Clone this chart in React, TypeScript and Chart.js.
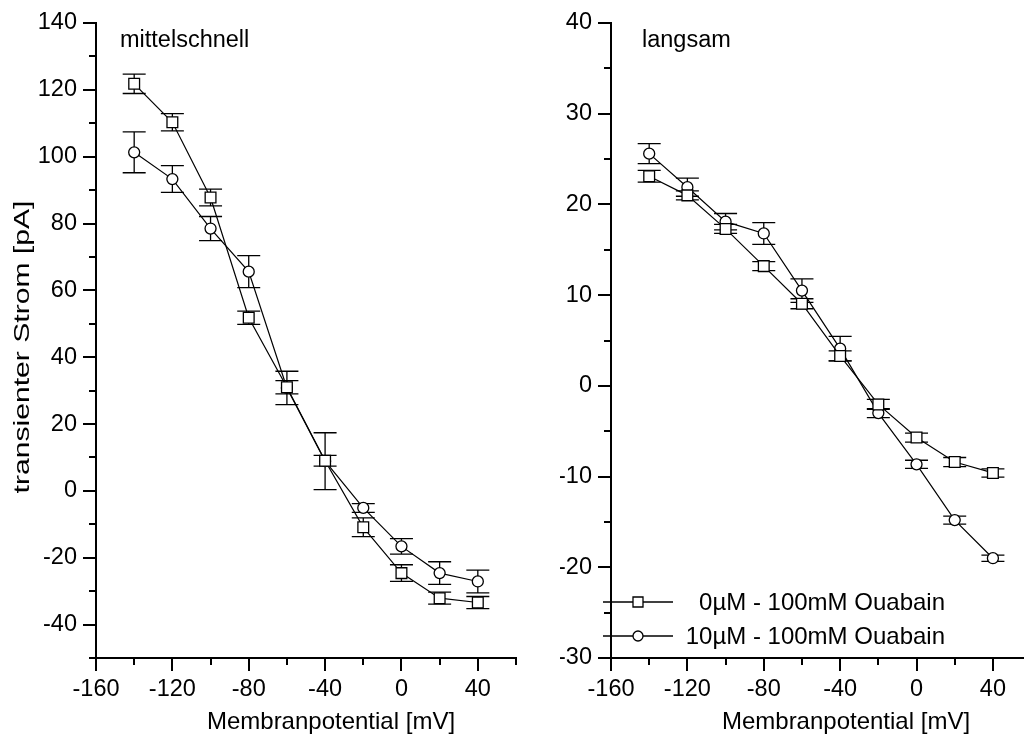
import React, { useEffect, useRef } from 'react';
import { Chart, registerables } from 'chart.js';

Chart.register(...registerables);

// ---------- data ----------
const voltage = [-140, -120, -100, -80, -60, -40, -20, 0, 20, 40];

const midSquare = [121.8, 110.3, 87.8, 51.8, 31.0, 9.0, -10.9, -24.6, -32.1, -33.4];
const midSquareErr = [2.9, 2.6, 2.5, 2.0, 2.0, 1.6, 2.8, 2.5, 1.8, 1.8];
const midCircle = [101.3, 93.3, 78.5, 65.6, 30.8, 8.9, -5.1, -16.6, -24.6, -27.1];
const midCircleErr = [6.1, 4.0, 3.6, 4.8, 5.0, 8.5, 1.3, 2.3, 3.4, 3.4];

const slowSquare = [23.1, 21.0, 17.3, 13.2, 9.05, 3.3, -2.05, -5.7, -8.4, -9.6];
const slowSquareErr = [0.65, 0.5, 0.5, 0.5, 0.55, 0.55, 0.55, 0.5, 0.5, 0.45];
const slowCircle = [25.6, 21.9, 18.1, 16.8, 10.5, 4.1, -3.0, -8.65, -14.8, -19.0];
const slowCircleErr = [1.1, 1.0, 0.9, 1.2, 1.3, 1.35, 0.5, 0.45, 0.45, 0.35];

const seriesNames = ['0\u00B5M - 100mM Ouabain', '10\u00B5M - 100mM Ouabain'];
const panelNames = ['mittelschnell', 'langsam'];
const xTitle = 'Membranpotential [mV]';
const yTitle = 'transienter Strom [pA]';

const FONT = 'Arial, "Liberation Sans", sans-serif';

type Panel = {
  width: number;
  yAxisWidth: number;
  padRight: number;
  yMin: number;
  yMax: number;
  yStep: number;
  yMajor: number;
  label: string;
  labelX: number;
  titleX: number;
  showYTitle: boolean;
  showLegend: boolean;
  sq: number[];
  sqErr: number[];
  ci: number[];
  ciErr: number[];
};

function drawMarker(ctx: CanvasRenderingContext2D, kind: string, x: number, y: number) {
  ctx.save();
  ctx.fillStyle = '#fff';
  ctx.strokeStyle = '#000';
  ctx.lineWidth = 1.3;
  ctx.beginPath();
  if (kind === 'rect') {
    ctx.rect(x - 5, y - 5, 10, 10);
  } else {
    ctx.arc(x, y, 5, 0, Math.PI * 2);
  }
  ctx.fill();
  ctx.stroke();
  ctx.restore();
}

function makeDecor(p: Panel) {
  return {
    id: 'decor',
    beforeDatasetDraw(chart: any, args: any) {
      const ctx = chart.ctx;
      const xs = chart.scales.x;
      const ys = chart.scales.y;
      const ds = chart.data.datasets[args.index];
      const errs: number[] = ds.errs;
      ctx.save();
      ctx.strokeStyle = '#000';
      ctx.lineWidth = 1.3;
      ds.data.forEach((pt: any, j: number) => {
        const px = xs.getPixelForValue(pt.x);
        const t = ys.getPixelForValue(pt.y + errs[j]);
        const b = ys.getPixelForValue(pt.y - errs[j]);
        const cap = 11.5;
        ctx.beginPath();
        ctx.moveTo(px, t);
        ctx.lineTo(px, b);
        ctx.moveTo(px - cap, t);
        ctx.lineTo(px + cap, t);
        ctx.moveTo(px - cap, b);
        ctx.lineTo(px + cap, b);
        ctx.stroke();
      });
      ctx.restore();
    },
    afterDraw(chart: any) {
      const ctx = chart.ctx as CanvasRenderingContext2D;
      const xs = chart.scales.x;
      const ys = chart.scales.y;
      const area = chart.chartArea;
      ctx.save();
      ctx.strokeStyle = '#000';
      ctx.lineWidth = 2;
      // x tick marks
      xs.ticks.forEach((t: any) => {
        const px = Math.round(xs.getPixelForValue(t.value));
        const len = t.value % 40 === 0 ? 13 : 7;
        ctx.beginPath();
        ctx.moveTo(px, area.bottom);
        ctx.lineTo(px, area.bottom + len);
        ctx.stroke();
      });
      // y tick marks
      ys.ticks.forEach((t: any) => {
        const py = Math.round(ys.getPixelForValue(t.value));
        const len = t.value % p.yMajor === 0 ? 13 : 7;
        ctx.beginPath();
        ctx.moveTo(area.left, py);
        ctx.lineTo(area.left - len, py);
        ctx.stroke();
      });
      ctx.fillStyle = '#000';
      // x title
      ctx.font = `24px ${FONT}`;
      ctx.textAlign = 'center';
      ctx.textBaseline = 'alphabetic';
      ctx.fillText(xTitle, p.titleX, 729);
      // panel label
      ctx.textAlign = 'left';
      ctx.font = `23.5px ${FONT}`;
      ctx.fillText(p.label, p.labelX, 47);
      // y title
      if (p.showYTitle) {
        ctx.save();
        ctx.translate(23, 347);
        ctx.rotate(-Math.PI / 2);
        ctx.scale(1.4, 1);
        ctx.font = `21.5px ${FONT}`;
        ctx.textAlign = 'center';
        ctx.textBaseline = 'middle';
        ctx.fillText(yTitle, 0, 0);
        ctx.restore();
      }
      // legend
      if (p.showLegend) {
        const rows = [
          { y: 602, kind: 'rect', text: seriesNames[0] },
          { y: 636, kind: 'circle', text: seriesNames[1] },
        ];
        rows.forEach((r) => {
          ctx.lineWidth = 1.3;
          ctx.beginPath();
          ctx.moveTo(43, r.y);
          ctx.lineTo(113, r.y);
          ctx.stroke();
          drawMarker(ctx, r.kind, 78, r.y);
          ctx.fillStyle = '#000';
          ctx.font = `24px ${FONT}`;
          ctx.textAlign = 'right';
          ctx.textBaseline = 'middle';
          ctx.fillText(r.text, 385, r.y + 1);
        });
      }
      ctx.restore();
    },
  };
}

function buildConfig(p: Panel): any {
  const mk = (vals: number[], errs: number[], style: string, radius: number, label: string) => ({
    label,
    data: voltage.map((x, i) => ({ x, y: vals[i] })),
    errs,
    showLine: true,
    borderColor: '#000',
    borderWidth: 1.2,
    backgroundColor: '#fff',
    pointStyle: style,
    pointRadius: radius,
    pointBorderColor: '#000',
    pointBackgroundColor: '#fff',
    pointBorderWidth: 1.3,
    tension: 0,
    clip: false,
  });
  return {
    type: 'line',
    data: {
      datasets: [
        mk(p.sq, p.sqErr, 'rect', 7.6, seriesNames[0]),
        mk(p.ci, p.ciErr, 'circle', 5.5, seriesNames[1]),
      ],
    },
    options: {
      responsive: false,
      animation: false,
      layout: { padding: { left: 0, top: 23, right: p.padRight, bottom: 0 } },
      plugins: { legend: { display: false }, tooltip: { enabled: false } },
      events: [],
      scales: {
        x: {
          type: 'linear',
          min: -160,
          max: 60,
          grid: { display: false, drawTicks: true, tickLength: 13 },
          border: { display: true, color: '#000', width: 2 },
          ticks: {
            stepSize: 20,
            autoSkip: false,
            maxRotation: 0,
            minRotation: 0,
            padding: 4,
            color: '#000',
            font: { family: FONT, size: 23.5 },
            callback: (v: number) => (v % 40 === 0 ? String(v) : ''),
          },
          afterFit: (s: any) => {
            s.height = 735 - 658;
          },
        },
        y: {
          type: 'linear',
          min: p.yMin,
          max: p.yMax,
          grid: { display: false, drawTicks: true, tickLength: 13 },
          border: { display: true, color: '#000', width: 2 },
          ticks: {
            stepSize: p.yStep,
            autoSkip: false,
            padding: 6,
            color: '#000',
            font: { family: FONT, size: 23.5 },
            callback: (v: number) => (v % p.yMajor === 0 ? String(v) : ''),
          },
          afterFit: (s: any) => {
            s.width = p.yAxisWidth;
          },
        },
      },
    },
    plugins: [makeDecor(p)],
  };
}

const leftPanel: Panel = {
  width: 560,
  yAxisWidth: 96,
  padRight: 44,
  yMin: -50,
  yMax: 140,
  yStep: 10,
  yMajor: 20,
  label: panelNames[0],
  labelX: 120,
  titleX: 331,
  showYTitle: true,
  showLegend: false,
  sq: midSquare,
  sqErr: midSquareErr,
  ci: midCircle,
  ciErr: midCircleErr,
};

const rightPanel: Panel = {
  width: 480,
  yAxisWidth: 51,
  padRight: 8,
  yMin: -30,
  yMax: 40,
  yStep: 5,
  yMajor: 10,
  label: panelNames[1],
  labelX: 82,
  titleX: 286,
  showYTitle: false,
  showLegend: true,
  sq: slowSquare,
  sqErr: slowSquareErr,
  ci: slowCircle,
  ciErr: slowCircleErr,
};

export default function App() {
  const leftRef = useRef<HTMLCanvasElement>(null);
  const rightRef = useRef<HTMLCanvasElement>(null);

  useEffect(() => {
    const charts: Chart[] = [];
    if (leftRef.current) charts.push(new Chart(leftRef.current, buildConfig(leftPanel)));
    if (rightRef.current) charts.push(new Chart(rightRef.current, buildConfig(rightPanel)));
    return () => charts.forEach((c) => c.destroy());
  }, []);

  return (
    <div
      style={{
        position: 'absolute',
        left: 0,
        top: 0,
        width: 1024,
        height: 735,
        overflow: 'hidden',
        background: '#fff',
      }}
    >
      <canvas
        ref={leftRef}
        width={560}
        height={735}
        style={{ position: 'absolute', left: 0, top: 0, width: 560, height: 735 }}
      />
      <canvas
        ref={rightRef}
        width={480}
        height={735}
        style={{ position: 'absolute', left: 560, top: 0, width: 480, height: 735 }}
      />
    </div>
  );
}
